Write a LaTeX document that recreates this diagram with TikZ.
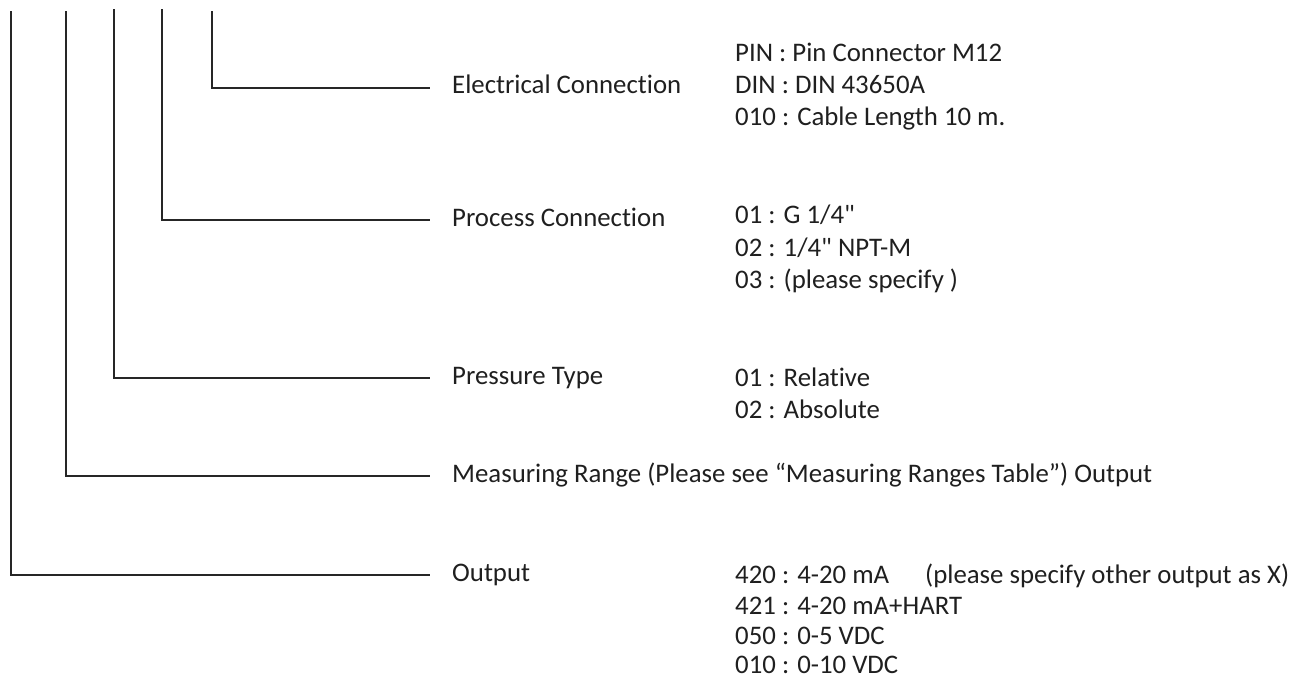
\documentclass[tikz,border=0pt]{standalone}
\usepackage{fontspec}
\newfontfamily\calfont{Carlito}[Ligatures=NoCommon]
\usetikzlibrary{calc}
\begin{document}
\begin{tikzpicture}[x=1pt,y=-1pt,
  conn/.style={line width=1.6pt, draw=black!85},
  lbl/.style={anchor=base west, inner sep=0pt, font=\calfont\fontsize{26.8}{32}\selectfont, text=black!88}]
\useasboundingbox (0,0) rectangle (1300,681);
% tops of the vertical lines
\coordinate (t1) at (10.7,11);
\coordinate (t2) at (65.7,11);
\coordinate (t3) at (114,9);
\coordinate (t4) at (162,9);
\coordinate (t5) at (212,11);
% labels
\node[lbl] (ec) at (452,93) {Electrical Connection};
\node[lbl] (pc) at (452,226) {Process Connection};
\node[lbl] (pt) at (452,384) {Pressure Type};
\node[lbl] (mr) at (452,482) {Measuring Range (Please see “Measuring Ranges Table”) Output};
\node[lbl] (op) at (452,581) {Output};
% options
\node[lbl] (ec1) at (735,61) {PIN : Pin Connector M12};
\node[lbl] (ec2) at (735,93) {DIN : DIN 43650A};
\node[lbl] (ec3) at (735,125) {010 : Cable Length 10 m.};
\node[lbl] (pc1) at (735,223) {01 : G 1/4"};
\node[lbl] (pc2) at (735,256) {02 : 1/4" NPT-M};
\node[lbl] (pc3) at (735,288) {03 : (please specify )};
\node[lbl] (pt1) at (735,386) {01 : Relative};
\node[lbl] (pt2) at (735,418) {02 : Absolute};
\node[lbl] (op1) at (735,583) {420 : 4-20 mA};
\node[lbl] (opx) at (925,583) {(please specify other output as X)};
\node[lbl] (op2) at (735,614) {421 : 4-20 mA+HART};
\node[lbl] (op3) at (735,644) {050 : 0-5 VDC};
\node[lbl] (op4) at (735,673) {010 : 0-10 VDC};
% connectors
\draw[conn] (t5) |- ($(ec.base west)+(-22,-5)$);
\draw[conn] (t4) |- ($(pc.base west)+(-22,-6)$);
\draw[conn] (t3) |- ($(pt.base west)+(-22,-6)$);
\draw[conn] (t2) |- ($(mr.base west)+(-22,-6)$);
\draw[conn] (t1) |- ($(op.base west)+(-22,-6)$);
\end{tikzpicture}
\end{document}
